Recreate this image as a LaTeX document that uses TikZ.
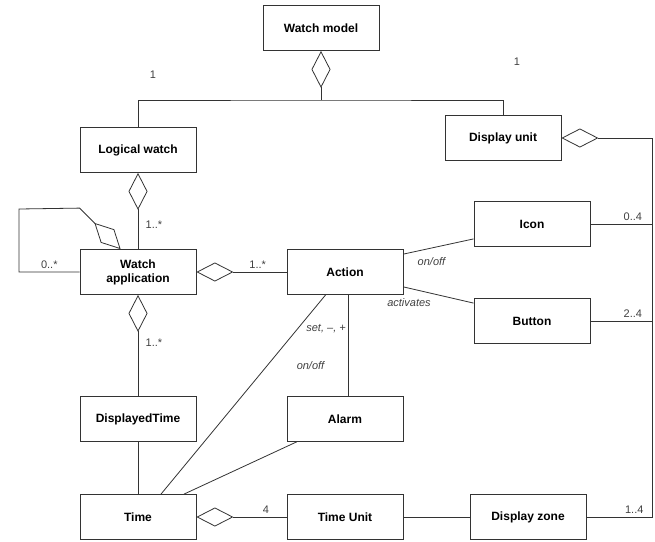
\documentclass[tikz,border=0pt]{standalone}
\usepackage{fontspec}
\setmainfont{Liberation Sans}
\usetikzlibrary{arrows.meta, calc, positioning}
\tikzset{
  cls/.style={draw=black!80, line width=0.8pt, minimum width=116pt, minimum height=45pt,
    align=center, text=black, font=\bfseries\fontsize{12}{14}\selectfont},
  agg/.style={{Diamond[open, length=37pt, width=19pt]}-},
  mult/.style={text=black!75, font=\fontsize{11}{12}\selectfont},
  role/.style={text=black!75, font=\itshape\fontsize{11}{12}\selectfont}
}

\begin{document}
\begin{tikzpicture}[x=1pt, y=-1pt, line width=0.8pt, color=black!80]
\useasboundingbox (0,0) rectangle (655,541);
% ===== classes =====
\node[cls] (wm)    at (321,28)  {Watch model};
\node[cls] (lw)    at (138,150) {Logical watch};
\node[cls] (du)    at (503,138) {Display unit};
\node[cls] (wa)    at (138,272) {Watch\\application};
\node[cls] (act)   at (345,272) {Action};
\node[cls] (icon)  at (532,224) {Icon};
\node[cls] (btn)   at (532,321) {Button};
\node[cls] (dt)    at (138,419) {DisplayedTime};
\node[cls] (alarm) at (345,419) {Alarm};
\node[cls] (time)  at (138,517) {Time};
\node[cls] (tu)    at (345,517) {Time Unit};
\node[cls] (dz)    at (528,517) {Display zone};
% ===== watch model composition =====
\coordinate (hub) at (321,100);
\draw[agg] (wm.south) -- (hub);
\draw (lw.north) |- (hub) -| (du.north);
\node[mult] (m1l) at (153,75) {1};
\node[mult] (m1r) at (517,62) {1};
% ===== display unit bus =====
\coordinate (busT) at (652,138);
\coordinate (busB) at (652,517);
\draw[agg] (du.east) -- (busT) -- (busB) -- (dz.east) node[mult, pos=0.27, above] {1..4};
\draw (icon.east) -- (icon.east -| busT) node[mult, pos=0.69, above] {0..4};
\draw (btn.east) -- (btn.east -| busT) node[mult, pos=0.69, above] {2..4};
% ===== watch application =====
\draw[agg] (lw.south) -- (wa.north) node[mult, pos=0.68, right=4pt] {1..*};
\draw[agg] ($(wa.north west)+(41,0)$) -- ($(wa.north west)+(0,-41)$) -- (19,209) -- (19,272)
  -- (wa.west) node[mult, pos=0.5, above] {0..*};
\draw[agg] (wa.east) -- (act.west) node[mult, pos=0.68, above] {1..*};
\draw[agg] (wa.south) -- (dt.north) node[mult, pos=0.47, right=4pt] {1..*};
% ===== action =====
\draw ($(act.north east)+(0,5)$) -- ($(icon.south west)+(0,-8)$) node[role, pos=0.4, below=6pt] {on/off};
\draw ($(act.south east)+(0,-8)$) -- ($(btn.north west)+(0,5)$) node[role, pos=0.08, below=7pt] {activates};
\draw ($(act.south west)+(39,0)$) -- ($(time.north)+(23,0)$) node[role, pos=0.17, anchor=west, xshift=5] {set, –, +};
\draw (act.south -| alarm.north) ++(3,0) -- ($(alarm.north)+(3,0)$) node[role, pos=0.7, anchor=east, xshift=-20] {on/off};
\draw ($(alarm.south west)+(10,0)$) -- ($(time.north)+(46,0)$);
% ===== time =====
\draw (dt.south) -- (time.north);
\draw[agg] (time.east) -- (tu.west) node[mult, pos=0.77, above] {4};
\draw (tu.east) -- (dz.west);
\end{tikzpicture}
\end{document}
